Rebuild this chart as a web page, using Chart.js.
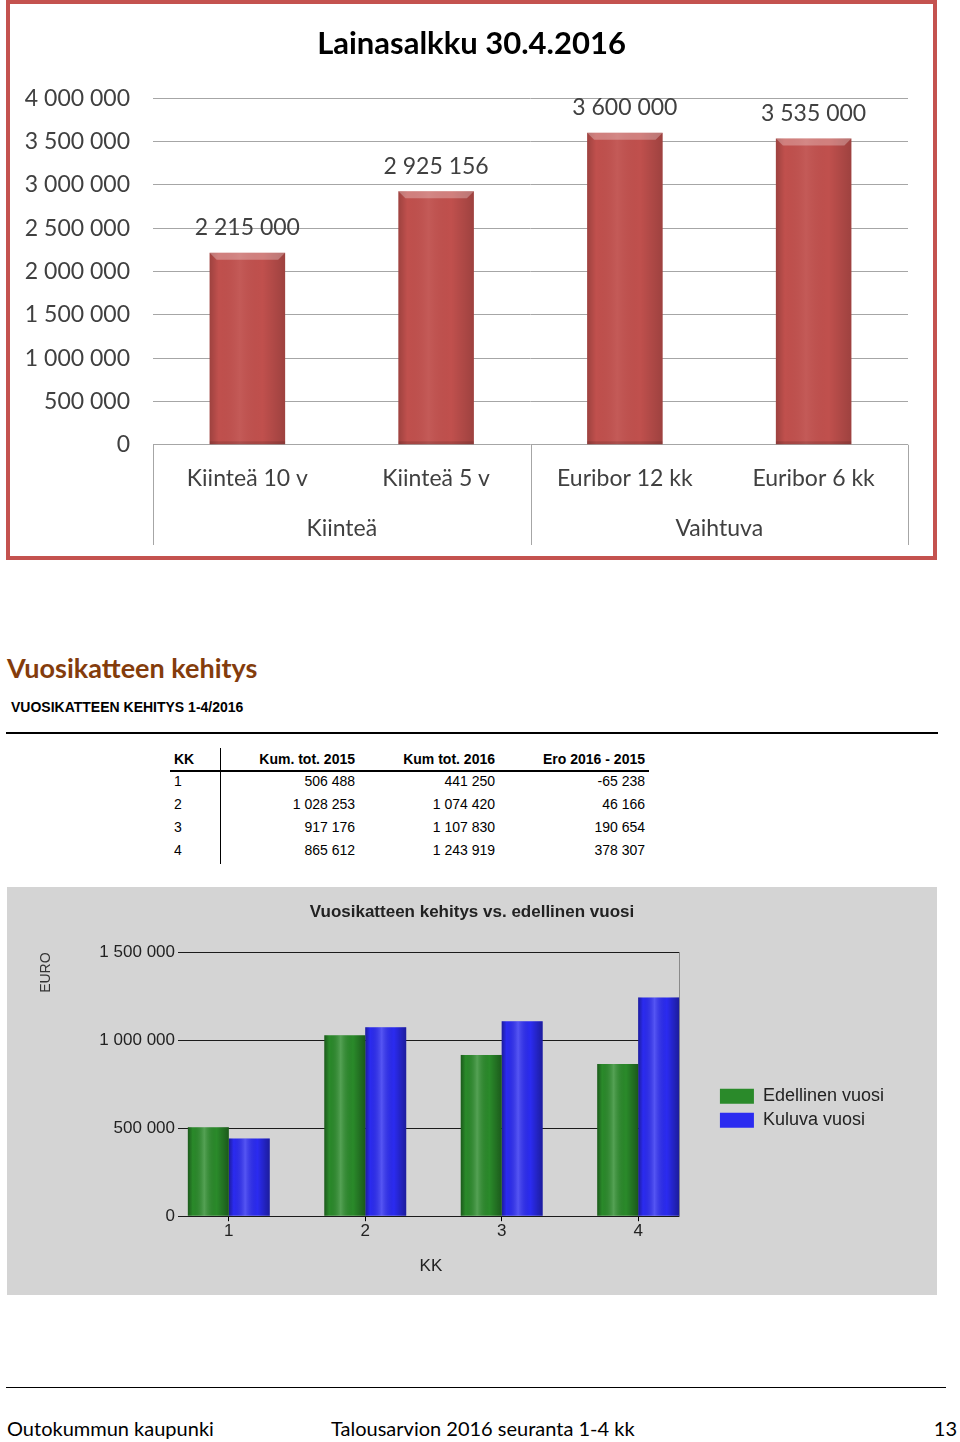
<!DOCTYPE html>
<html lang="fi">
<head>
<meta charset="utf-8">
<script src="https://cdn.jsdelivr.net/npm/chart.js@4.4.1/dist/chart.umd.min.js"></script>
<style>
  html, body { margin: 0; padding: 0; background: #fff; }
  body { position: relative; width: 960px; height: 1442px; overflow: hidden; font-family: Lato, sans-serif; color: #000; }
  #loanBox { position: absolute; left: 6px; top: 0; width: 931px; height: 560px; box-sizing: border-box; border: 4px solid #c4524f; }
  #loanChart { position: absolute; left: 0; top: 0; }
  #heading { position: absolute; left: 7px; top: 650px; font: bold 27px Lato, sans-serif; color: #843c0c; line-height: 36px; }
  #subheading { position: absolute; left: 11px; top: 698px; font: bold 14px "Liberation Sans", Arial, sans-serif; line-height: 18px; }
  #rule1 { position: absolute; left: 6px; top: 732px; width: 932px; height: 2px; background: #000; }
  #vkTable { position: absolute; left: 170px; top: 748px; border-collapse: collapse; font: 14px "Liberation Sans", Arial, sans-serif; }
  #vkTable td, #vkTable th { padding: 0 4px; text-align: right; white-space: nowrap; }
  #vkTable th { font-weight: bold; border-bottom: 2px solid #000; height: 22px; line-height: 22px; }
  #vkTable td { height: 19px; line-height: 19px; padding-bottom: 4px; }
  #vkTable .kk { text-align: left; width: 42px; border-right: 1px solid #000; }
  #vkTable .c2 { width: 130px; }
  #vkTable .c3 { width: 132px; }
  #vkTable .c4 { width: 142px; }
  #vkBox { position: absolute; left: 7px; top: 887px; width: 930px; height: 408px; background: #d4d4d4; }
  #vkChart { position: absolute; left: 0; top: 0; }
  #rule2 { position: absolute; left: 6px; top: 1387px; width: 940px; height: 1px; background: #000; }
  .foot { position: absolute; top: 1415px; font: 20px Lato, sans-serif; line-height: 26px; }
</style>
</head>
<body>

<div id="loanBox"><canvas id="loanChart" width="923" height="552"></canvas></div>

<div id="heading">Vuosikatteen kehitys</div>
<div id="subheading">VUOSIKATTEEN KEHITYS 1-4/2016</div>
<div id="rule1"></div>
<table id="vkTable">
  <thead><tr><th class="kk">KK</th><th class="c2">Kum. tot. 2015</th><th class="c3">Kum tot. 2016</th><th class="c4">Ero 2016 - 2015</th></tr></thead>
  <tbody id="vkBody"></tbody>
</table>

<div id="vkBox"><canvas id="vkChart" width="930" height="408"></canvas></div>

<div id="rule2"></div>
<div class="foot" style="left:7px">Outokummun kaupunki</div>
<div class="foot" style="left:331px">Talousarvion 2016 seuranta 1-4 kk</div>
<div class="foot" style="right:3px">13</div>

<script>
// loan portfolio
const loanLabels = ["Kiinteä 10 v", "Kiinteä 5 v", "Euribor 12 kk", "Euribor 6 kk"];
const loanGroups = ["Kiinteä", "Vaihtuva"];
const loanValues = [2215000, 2925156, 3600000, 3535000];

// vuosikate, cumulative by month
const months = [1, 2, 3, 4];
const prevYear = [506488, 1028253, 917176, 865612];
const currYear = [441250, 1074420, 1107830, 1243919];
const diffs = [-65238, 46166, 190654, 378307];

const fmt = n => (n < 0 ? "-" : "") + String(Math.abs(n)).replace(/\B(?=(\d{3})+(?!\d))/g, " ");

// table rows
document.getElementById("vkBody").innerHTML = months.map((m, i) =>
  `<tr><td class="kk">${m}</td><td>${fmt(prevYear[i])}</td><td>${fmt(currYear[i])}</td><td>${fmt(diffs[i])}</td></tr>`
).join("");

/** cylinder-ish shading painted over each bar */
const shade = {
  id: "shade",
  afterDatasetsDraw(chart, args, opts) {
    const ctx = chart.ctx;
    chart.data.datasets.forEach((ds, i) => {
      chart.getDatasetMeta(i).data.forEach(bar => {
        const { x, y, base, width } = bar.getProps(["x", "y", "base", "width"], true);
        const left = x - width / 2, right = x + width / 2;
        const g = ctx.createLinearGradient(left, 0, right, 0);
        g.addColorStop(0, `rgba(0,0,0,${opts.edge})`);
        g.addColorStop(0.12, "rgba(0,0,0,0)");
        g.addColorStop(0.4, `rgba(255,255,255,${opts.light})`);
        g.addColorStop(0.7, "rgba(0,0,0,0)");
        g.addColorStop(1, `rgba(0,0,0,${opts.edge})`);
        ctx.save();
        ctx.fillStyle = g;
        ctx.fillRect(left, y, width, base - y);
        if (opts.bevel) {
          ctx.fillStyle = "rgba(255,255,255,0.28)";
          ctx.beginPath();
          ctx.moveTo(left, y);
          ctx.lineTo(right, y);
          ctx.lineTo(right - opts.bevel, y + opts.bevel);
          ctx.lineTo(left + opts.bevel, y + opts.bevel);
          ctx.closePath();
          ctx.fill();
          ctx.fillStyle = "rgba(0,0,0,0.12)";
          ctx.fillRect(left, base - 3, width, 3);
        }
        ctx.restore();
      });
    });
  }
};

const valueLabels = {
  id: "valueLabels",
  afterDatasetsDraw(chart) {
    const ctx = chart.ctx;
    const ds = chart.data.datasets[0];
    ctx.save();
    ctx.font = "23px Lato";
    ctx.fillStyle = "#404040";
    ctx.textAlign = "center";
    ctx.textBaseline = "middle";
    chart.getDatasetMeta(0).data.forEach((bar, i) => ctx.fillText(fmt(ds.data[i]), bar.x, bar.y - 25));
    ctx.restore();
  }
};

// vertical dividers of the two-level category axis
const groupLines = {
  id: "groupLines",
  afterDraw(chart) {
    const { ctx, chartArea, scales } = chart;
    const xs = [chartArea.left, scales.x.getPixelForValue(1.5), chartArea.right];
    ctx.save();
    ctx.strokeStyle = "#a6a6a6";
    ctx.lineWidth = 1;
    xs.forEach(px => {
      const p = Math.round(px) + 0.5;
      ctx.beginPath();
      ctx.moveTo(p, chartArea.bottom);
      ctx.lineTo(p, scales.x2.bottom + 1);
      ctx.stroke();
    });
    ctx.restore();
  }
};

const calibri = { family: "Lato", size: 23 };

new Chart(document.getElementById("loanChart"), {
  type: "bar",
  data: {
    labels: loanLabels,
    datasets: [{ data: loanValues, backgroundColor: "#c0504d", categoryPercentage: 1, barPercentage: 0.4 }]
  },
  options: {
    responsive: false,
    animation: false,
    layout: { padding: { left: 0, right: 0, top: 0, bottom: 12 } },
    plugins: {
      legend: { display: false },
      tooltip: { enabled: false },
      title: {
        display: true, text: "Lainasalkku 30.4.2016", color: "#000",
        font: { family: "Lato", size: 31, weight: "bold" },
        padding: { top: 21, bottom: 36 }
      },
      shade: { edge: 0.18, light: 0.06, bevel: 7 }
    },
    scales: {
      y: {
        min: 0, max: 4000000,
        afterFit: s => { s.width = 143; },
        ticks: { stepSize: 500000, callback: v => fmt(v), font: calibri, color: "#404040", padding: 23 },
        grid: { color: "#a6a6a6", drawTicks: false },
        border: { display: false }
      },
      // empty right-hand gutter
      yPad: {
        position: "right",
        afterFit: s => { s.width = 25; },
        ticks: { display: false },
        grid: { display: false, drawTicks: false },
        border: { display: false }
      },
      x: {
        ticks: { font: calibri, color: "#404040", padding: 20 },
        grid: { display: false, drawTicks: false },
        border: { display: false }
      },
      x2: {
        type: "category", labels: loanGroups, position: "bottom", offset: true,
        ticks: { font: calibri, color: "#404040", padding: 2 },
        grid: { display: false, drawTicks: false },
        border: { display: false }
      }
    }
  },
  plugins: [shade, valueLabels, groupLines]
});

const arial = "'Liberation Sans', Arial, sans-serif";

new Chart(document.getElementById("vkChart"), {
  type: "bar",
  data: {
    datasets: [
      { label: "Edellinen vuosi", data: months.map((m, i) => ({ x: m, y: prevYear[i] })), backgroundColor: "#2a8a2a", categoryPercentage: 0.6, barPercentage: 1 },
      { label: "Kuluva vuosi", data: months.map((m, i) => ({ x: m, y: currYear[i] })), backgroundColor: "#2b2bf0", categoryPercentage: 0.6, barPercentage: 1 }
    ]
  },
  options: {
    responsive: false,
    animation: false,
    layout: { padding: { left: 43, right: 43, top: 0, bottom: 0 } },
    plugins: {
      tooltip: { enabled: false },
      title: {
        display: true, text: "Vuosikatteen kehitys vs. edellinen vuosi", color: "#222",
        font: { family: arial, size: 17, weight: "bold" },
        padding: { top: 15, bottom: 30 }
      },
      legend: {
        position: "right",
        maxWidth: 260,
        title: { display: true, text: " ", padding: 7, font: { family: arial, size: 17 } },
        labels: { boxWidth: 34, boxHeight: 15, padding: 6, color: "#222", font: { family: arial, size: 18 } }
      },
      shade: { edge: 0.35, light: 0.2, bevel: 0 }
    },
    scales: {
      x: {
        type: "linear", min: 0.657, max: 4.306, offset: false,
        ticks: { stepSize: 1, includeBounds: false, padding: 0, color: "#222", font: { family: arial, size: 17 } },
        grid: { drawOnChartArea: false, offset: false, tickLength: 5, color: "#000" },
        border: { display: false },
        title: { display: true, text: "KK", color: "#222", font: { family: arial, size: 17 }, padding: { top: 15, bottom: 18 } }
      },
      y: {
        min: 0, max: 1500000,
        afterFit: s => { s.width = 132; },
        ticks: { stepSize: 500000, callback: v => fmt(v), padding: 3, color: "#222", font: { family: arial, size: 17 } },
        grid: { color: "#1a1a1a", tickLength: 4 },
        border: { display: false },
        title: { display: true, text: "EURO", align: "end", color: "#333", font: { family: arial, size: 14 }, padding: { top: -12, bottom: 0 } }
      },
      y2: {
        position: "right",
        afterFit: s => { s.width = 34; },
        ticks: { display: false },
        grid: { display: false, drawTicks: false },
        border: { color: "#8a8a8a" }
      }
    }
  },
  plugins: [shade]
});
</script>
</body>
</html>
